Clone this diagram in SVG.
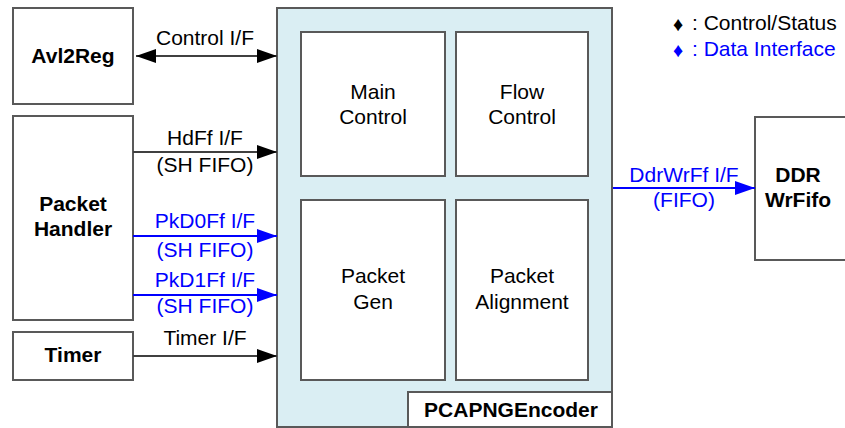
<svg xmlns="http://www.w3.org/2000/svg" width="845" height="428" viewBox="0 0 845 428">
<style>
.box{fill:#fff;stroke:#595959;stroke-width:2}
.enc{fill:#daeef3;stroke:#595959;stroke-width:2}
.t{font-family:"Liberation Sans",Arial,sans-serif;font-size:21px;fill:#000;text-anchor:middle}
.b{font-weight:bold}
.blue{fill:#0000ff}
.lg{font-size:21px;text-anchor:start}
.dm{font-size:20px}
.lk{stroke:#404040;stroke-width:2;fill:none}
.lb{stroke:#0000ff;stroke-width:2;fill:none}
</style>
<defs>
<marker id="ak" viewBox="0 0 20 14" refX="20" refY="7" markerWidth="20" markerHeight="14" markerUnits="userSpaceOnUse" orient="auto-start-reverse"><path d="M0,0 L20,7 L0,14 Z" fill="#000"/></marker>
<marker id="ab" viewBox="0 0 20 14" refX="20" refY="7" markerWidth="20" markerHeight="14" markerUnits="userSpaceOnUse" orient="auto"><path d="M0,0 L20,7 L0,14 Z" fill="#0000ff"/></marker>
</defs>
<g id="encoder">
<rect class="enc" x="277" y="8" width="335" height="419"/>
<rect class="box" x="408" y="392" width="204" height="35"/>
<text class="t b" x="511" y="417">PCAPNGEncoder</text>
</g>
<g id="main-control"><rect class="box" x="301" y="32" width="144" height="144"/><text class="t" x="373" y="99">Main</text><text class="t" x="373" y="124">Control</text></g>
<g id="flow-control"><rect class="box" x="456" y="32" width="132" height="144"/><text class="t" x="522" y="99">Flow</text><text class="t" x="522" y="124">Control</text></g>
<g id="packet-gen"><rect class="box" x="301" y="200" width="144" height="180"/><text class="t" x="373" y="283">Packet</text><text class="t" x="373" y="309">Gen</text></g>
<g id="packet-alignment"><rect class="box" x="456" y="200" width="132" height="180"/><text class="t" x="522" y="283">Packet</text><text class="t" x="522" y="309">Alignment</text></g>
<g id="avl2reg"><rect class="box" x="13" y="8" width="120" height="96"/><text class="t b" x="73" y="63">Avl2Reg</text></g>
<g id="packet-handler"><rect class="box" x="13" y="116" width="120" height="204"/><text class="t b" x="73" y="211">Packet</text><text class="t b" x="73" y="236">Handler</text></g>
<g id="timer"><rect class="box" x="13" y="332" width="120" height="48"/><text class="t b" x="73" y="362">Timer</text></g>
<g id="ddr-wrfifo"><rect class="box" x="755" y="117" width="95" height="143"/><text class="t b" x="798" y="182">DDR</text><text class="t b" x="798" y="207">WrFifo</text></g>
<g id="connectors">
<line class="lk" x1="136" y1="56" x2="277" y2="56" marker-start="url(#ak)" marker-end="url(#ak)"/>
<text class="t" x="205" y="45">Control I/F</text>
<line class="lk" x1="133" y1="152" x2="277" y2="152" marker-end="url(#ak)"/>
<text class="t" x="205" y="145">HdFf I/F</text>
<text class="t" x="205" y="172">(SH FIFO)</text>
<line class="lb" x1="133" y1="236" x2="277" y2="236" marker-end="url(#ab)"/>
<text class="t blue" x="205" y="228">PkD0Ff I/F</text>
<text class="t blue" x="205" y="257">(SH FIFO)</text>
<line class="lb" x1="133" y1="295" x2="277" y2="295" marker-end="url(#ab)"/>
<text class="t blue" x="205" y="287">PkD1Ff I/F</text>
<text class="t blue" x="205" y="313">(SH FIFO)</text>
<line class="lk" x1="133" y1="356" x2="277" y2="356" marker-end="url(#ak)"/>
<text class="t" x="205" y="345">Timer I/F</text>
<line class="lb" x1="613" y1="188" x2="755" y2="188" marker-end="url(#ab)"/>
<text class="t blue" x="684" y="182">DdrWrFf I/F</text>
<text class="t blue" x="684" y="207">(FIFO)</text>
</g>
<g id="legend">
<text class="t dm" x="678" y="31">♦</text>
<text class="t lg" x="692" y="30">: Control/Status</text>
<text class="t blue dm" x="678" y="57">♦</text>
<text class="t blue lg" x="692" y="56">: Data Interface</text>
</g>
</svg>
